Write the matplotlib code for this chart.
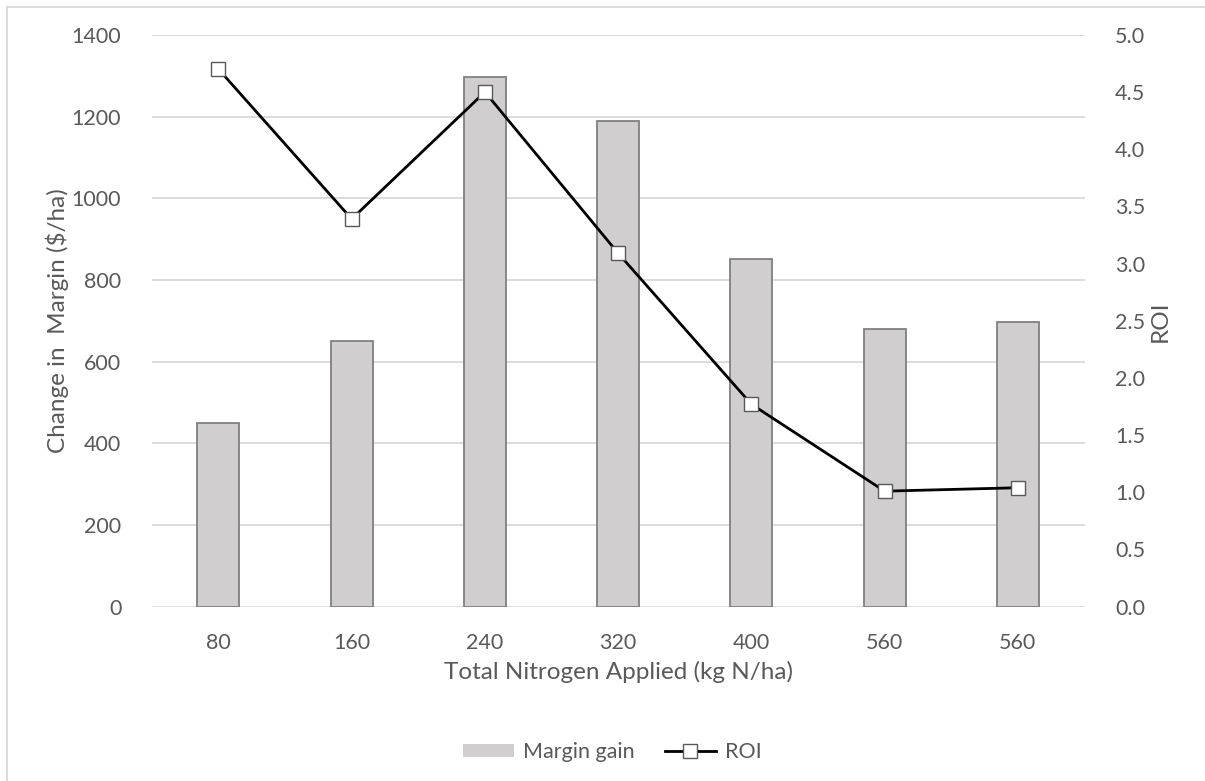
import matplotlib.pyplot as plt
from matplotlib.patches import Patch
from matplotlib.lines import Line2D

# nitrogen rates (two trials both at 560)
n_rates = ["80", "160", "240", "320", "400", "560", "560"]
margin_gain = [450, 650, 1296, 1190, 850, 680, 698]
roi = [4.70, 3.39, 4.50, 3.09, 1.77, 1.01, 1.04]

left_ticks = [0, 200, 400, 600, 800, 1000, 1200, 1400]
right_ticks = [0.0, 0.5, 1.0, 1.5, 2.0, 2.5, 3.0, 3.5, 4.0, 4.5, 5.0]

txt = "#595959"
plt.rcParams["font.family"] = ["Lato", "DejaVu Sans"]

fig = plt.figure(figsize=(12.05, 7.81), dpi=100)
ax = fig.add_axes([0.126, 0.2232, 0.774, 0.7322])
ax2 = ax.twinx()

x = range(len(n_rates))
ax.bar(x, margin_gain, width=0.315, color="#D0CECE", edgecolor="#808080", linewidth=1.3, zorder=2)
ax2.plot(x, roi, color="black", linewidth=2.0, marker="s", markersize=10,
         markerfacecolor="white", markeredgecolor="#595959", markeredgewidth=1.0, zorder=3)

ax.set_xlim(-0.5, len(n_rates) - 0.5)
ax.set_ylim(0, 1400)
ax2.set_ylim(0, 5)
ax.set_yticks(left_ticks)
ax2.set_yticks(right_ticks)
ax2.set_yticklabels(["%.1f" % t for t in right_ticks])
ax.set_xticks(list(x))
ax.set_xticklabels(n_rates)

ax.set_axisbelow(True)
ax.grid(axis="y", color="#D9D9D9", linewidth=1.3)
for a in (ax, ax2):
    for s in a.spines.values():
        s.set_visible(False)
    a.tick_params(length=0, labelsize=15.5, labelcolor=txt)
ax.tick_params(axis="x", pad=19)
ax.tick_params(axis="y", pad=22)
ax2.tick_params(axis="y", pad=22)

ax.set_xlabel("Total Nitrogen Applied (kg N/ha)", fontsize=17.5, color=txt, labelpad=6)
ax.set_ylabel("Change in  Margin ($/ha)", fontsize=17.5, color=txt, labelpad=2)
ax2.set_ylabel("ROI", fontsize=17.5, color=txt, labelpad=3)

handles = [
    Patch(facecolor="#D0CECE", edgecolor="none"),
    Line2D([], [], color="black", linewidth=2.0, marker="s", markersize=10,
           markerfacecolor="white", markeredgecolor="#595959", markeredgewidth=1.0),
]
leg = fig.legend(handles, ["Margin gain", "ROI"], loc="center", bbox_to_anchor=(0.508, 0.037),
                 ncol=2, frameon=False, fontsize=15.5, handlelength=2.4, handleheight=0.5,
                 columnspacing=1.4, handletextpad=0.4)
for t in leg.get_texts():
    t.set_color(txt)

# chart area border
fig.add_artist(Line2D([7 / 1205, 7 / 1205], [0, 1 - 7 / 781], color="#D9D9D9", linewidth=1.3))
fig.add_artist(Line2D([7 / 1205, 1], [1 - 7 / 781, 1 - 7 / 781], color="#D9D9D9", linewidth=1.3))

fig.savefig("out.png", dpi=100)
